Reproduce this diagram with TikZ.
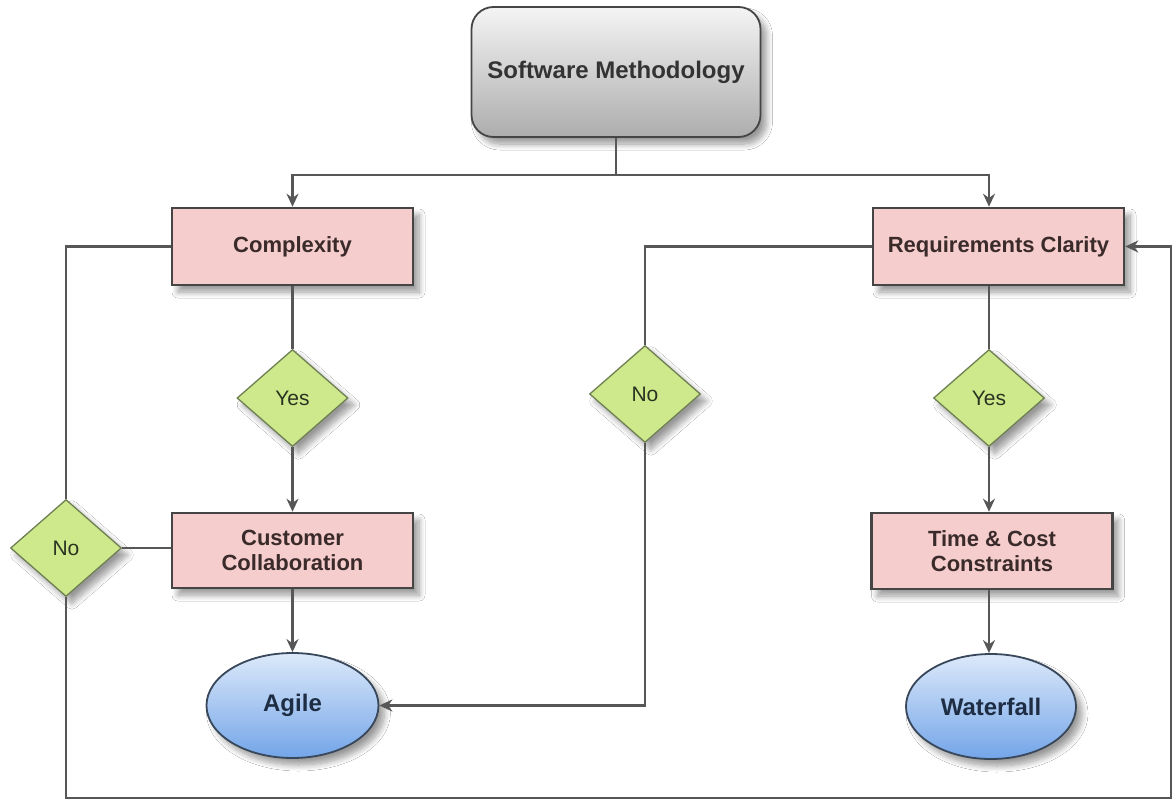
\documentclass[tikz,border=0pt]{standalone}
\usepackage{fontspec}
\setmainfont{Liberation Sans}
\usetikzlibrary{shapes.geometric,arrows.meta,shadows.blur,calc}
\definecolor{boxfill}{HTML}{F5CDCD}
\definecolor{boxline}{HTML}{454545}
\definecolor{boxtext}{HTML}{3A2A2A}
\definecolor{decfill}{HTML}{CEE98C}
\definecolor{decline}{HTML}{6E7F52}
\definecolor{dectext}{HTML}{2A3320}
\definecolor{termtop}{HTML}{DCE9FA}
\definecolor{termbot}{HTML}{73A5E8}
\definecolor{termline}{HTML}{38475A}
\definecolor{termtext}{HTML}{1E2D44}
\definecolor{smtop}{HTML}{F4F4F4}
\definecolor{smbot}{HTML}{ADADAD}
\definecolor{conn}{HTML}{575757}
\begin{document}
\begin{tikzpicture}[x=1pt,y=-1pt,
  shade/.style={blur shadow={shadow xshift=6pt,shadow yshift=-7pt,shadow blur radius=6pt,shadow blur steps=10,shadow opacity=40}},
  topbox/.style={shape=rectangle,rounded corners=22pt,draw=boxline,line width=1.8pt,top color=smtop,bottom color=smbot,
    minimum width=289pt,minimum height=130pt,inner sep=0pt,text=black!80,font=\fontsize{24}{28}\selectfont\bfseries,shade},
  procbox/.style={shape=rectangle,draw=boxline,line width=2.6pt,fill=boxfill,minimum width=241pt,minimum height=77pt,
    inner sep=0pt,align=center,text=boxtext,font=\fontsize{22}{25}\selectfont\bfseries,shade},
  dec/.style={shape=diamond,draw=decline,line width=1.3pt,fill=decfill,minimum width=111pt,minimum height=97pt,
    inner sep=0pt,text=dectext,font=\fontsize{21}{24}\selectfont,shade},
  term/.style={shape=ellipse,draw=termline,line width=1.8pt,top color=termtop,bottom color=termbot,
    minimum width=172pt,minimum height=105pt,inner sep=0pt,text=termtext,font=\fontsize{24}{28}\selectfont\bfseries,shade},
  link/.style={draw=conn,line width=2.6pt},
  arr/.style={link,-{Stealth[length=13pt,width=12pt]}}
]
\useasboundingbox (0,0) rectangle (1176,803);
\fill[white] (0,0) rectangle (1176,803);

\node[topbox] (sm) at (616,72) {Software Methodology};
\node[procbox] (cx) at (292.5,246.5) {Complexity};
\node[procbox,minimum width=251pt] (rc) at (998.5,246.5) {Requirements Clarity};
\node[dec] (y1) at (292.5,398) {Yes};
\node[dec] (n2) at (645,394) {No};
\node[dec] (y2) at (989,398) {Yes};
\node[dec] (n1) at (66,548) {No};
\node[procbox,minimum height=75pt] (cc) at (292.5,550.5) {Customer\\Collaboration};
\node[procbox,minimum height=76pt] (tc) at (992,551) {Time \& Cost\\Constraints};
\node[term] (ag) at (292.5,705.5) {Agile};
\node[term,minimum width=170pt] (wf) at (991,706.5) {Waterfall};

\coordinate (split) at (616,175);
\coordinate (bl) at (66,798);
\coordinate (br) at (1171,798);

\draw[link] (sm.south) -- (split);
\draw[arr] (split) -| (cx.north);
\draw[arr] (split) -| (y2.north |- rc.north);

\draw[link] (cx.south) -- (y1.north);
\draw[arr] (y1.south) -- (cc.north);
\draw[arr] (cc.south) -- (ag.north);

\draw[link] (cx.west) -| (n1.north);
\draw[link] (n1.east) -- (n1.east -| cc.west);
\draw[arr] (n1.south) -- (bl) -- (br) |- (rc.east);

\draw[link] (rc.west) -| (n2.north);
\draw[arr] (n2.south) |- (ag.east);

\draw[link] (y2.north |- rc.south) -- (y2.north);
\draw[arr] (y2.south) -- (y2.south |- tc.north);
\draw[arr] (y2.south |- tc.south) -- (y2.south |- wf.north);
\end{tikzpicture}
\end{document}
